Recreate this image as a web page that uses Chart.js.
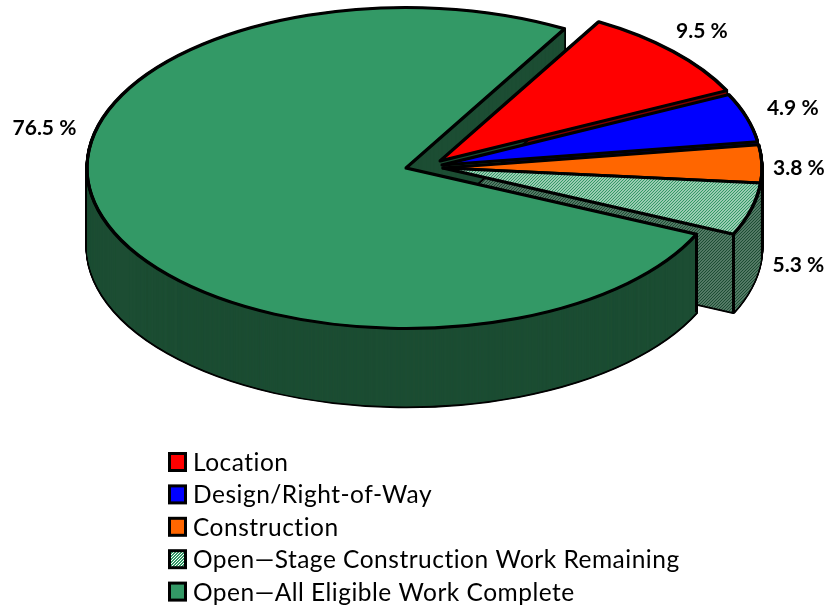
<!DOCTYPE html>
<html>
<head>
<meta charset="utf-8">
<style>
  html, body { margin: 0; padding: 0; background: #fff; }
  canvas { display: block; }
</style>
<script src="https://cdn.jsdelivr.net/npm/chart.js@4"></script>
</head>
<body>
<canvas id="pieChart" width="827" height="607"></canvas>
<script>
const categories = ['Location', 'Design/Right-of-Way', 'Construction', 'Open\u2014Stage Construction Work Remaining', 'Open\u2014All Eligible Work Complete'];
const shares = [9.5, 4.9, 3.8, 5.3, 76.5];
const shareLabels = ['9.5 %', '4.9 %', '3.8 %', '5.3 %', '76.5 %'];

// ─── 3D look ───
const SQUASH = 0.503;
const DEPTH = 78;
const OUTLINE = 3;
const sliceShift = [[34, -7], [36, -3], [37, 0], [37, 0], [0, 0]];
const labelShift = [[29, -20], [46, -9], [37, 4], [47, 56], [-58, -89]];

function makeHatch(fg, bg, squash) {
    const tile = document.createElement('canvas');
    tile.width = tile.height = 3;
    const t = tile.getContext('2d');
    t.fillStyle = fg;
    t.fillRect(0, 0, 3, 3);
    t.fillStyle = bg;
    t.fillRect(0, 2, 1, 1);
    t.fillRect(1, 1, 1, 1);
    t.fillRect(2, 0, 1, 1);
    const pattern = t.createPattern(tile, 'repeat');
    pattern.setTransform(new DOMMatrix().scale(1, 1 / squash));
    return pattern;
}

const stageTop = makeHatch('#339966', '#ffffff', SQUASH);
const stageSide = makeHatch('#1c4d33', '#8aa598', SQUASH);
const topColors = ['#ff0000', '#0000ff', '#ff6600', stageTop, '#339966'];
const sideColors = ['#800000', '#000080', '#803300', stageSide, '#1c4d33'];
const legendColors = ['#ff0000', '#0000ff', '#ff6600', makeHatch('#339966', '#ffffff', 1), '#339966'];

function paintArc(ctx, el, i, k, fill, width) {
    const cy = el.y;
    ctx.save();
    ctx.translate(sliceShift[i][0], sliceShift[i][1] + k);
    ctx.translate(0, cy);
    ctx.scale(1, SQUASH);
    ctx.translate(0, -cy);
    const face = Object.create(el);
    face.options = {
        backgroundColor: fill, borderColor: '#000', borderWidth: width,
        borderAlign: 'center', borderJoinStyle: 'round', borderDash: [], borderDashOffset: 0,
        borderRadius: 0, offset: 0, spacing: 0, circular: true
    };
    face.draw(ctx);
    ctx.restore();
}

function drawWall(ctx, el, i) {
    for (let k = DEPTH + 1; k >= 0; k -= 0.5) {
        paintArc(ctx, el, i, k, 'rgba(0,0,0,0)', OUTLINE);
    }
    for (let k = DEPTH; k >= 1; k -= 0.5) {
        if (sideColors[i] === stageSide) {
            stageSide.setTransform(new DOMMatrix().translate(0, -k / SQUASH).scale(1, 1 / SQUASH));
        }
        paintArc(ctx, el, i, k, sideColors[i], 0);
    }
}

function drawTop(ctx, el, i) {
    paintArc(ctx, el, i, 0, topColors[i], 0);
    [-0.75, 0, 0.75].forEach(d => paintArc(ctx, el, i, d, 'rgba(0,0,0,0)', OUTLINE));
}

function rimPoint(el, i, angle) {
    return {
        x: el.x + sliceShift[i][0] + el.outerRadius * Math.cos(angle),
        y: el.y + sliceShift[i][1] + el.outerRadius * SQUASH * Math.sin(angle)
    };
}

function drawCorner(ctx, el, i, angle) {
    const p = rimPoint(el, i, angle);
    ctx.save();
    ctx.strokeStyle = '#000';
    ctx.lineWidth = OUTLINE;
    ctx.beginPath();
    ctx.moveTo(p.x, p.y);
    ctx.lineTo(p.x, p.y + DEPTH);
    ctx.stroke();
    ctx.restore();
}

const pie3d = {
    id: 'pie3d',
    beforeDatasetDraw(chart) {
        const { ctx } = chart;
        const arcs = chart.getDatasetMeta(0).data;
        const big = arcs.length - 1;

        // 작은 조각 옆면 → 큰 조각 → 작은 조각 윗면 순서로 그림
        for (let i = 0; i < big; i++) drawWall(ctx, arcs[i], i);
        drawCorner(ctx, arcs[3], 3, arcs[3].endAngle);
        drawWall(ctx, arcs[big], big);
        drawCorner(ctx, arcs[big], big, arcs[big].startAngle);
        drawTop(ctx, arcs[big], big);
        for (let i = 0; i < big; i++) drawTop(ctx, arcs[i], i);
        return false;
    },
    afterDraw(chart) {
        const { ctx } = chart;
        const arcs = chart.getDatasetMeta(0).data;
        ctx.save();
        ctx.fillStyle = '#000';
        ctx.textBaseline = 'middle';

        // 퍼센트 레이블
        ctx.font = 'bold 21px Lato';
        ctx.textAlign = 'center';
        arcs.forEach((el, i) => {
            const p = rimPoint(el, i, (el.startAngle + el.endAngle) / 2);
            ctx.fillText(shareLabels[i], p.x + labelShift[i][0], p.y + labelShift[i][1]);
        });

        // 범례
        ctx.font = '24.5px Lato';
        ctx.letterSpacing = '0.5px';
        ctx.textAlign = 'left';
        categories.forEach((name, i) => {
            const y = 463 + i * 32.4;
            ctx.fillStyle = legendColors[i];
            ctx.fillRect(169.5, y - 9.5, 16, 17);
            ctx.strokeStyle = '#000';
            ctx.lineWidth = 3;
            ctx.strokeRect(169.5, y - 9.5, 16, 17);
            ctx.fillStyle = '#000';
            ctx.fillText(name, 193, y);
        });
        ctx.restore();
    }
};

new Chart(document.getElementById('pieChart').getContext('2d'), {
    type: 'pie',
    data: {
        labels: categories,
        datasets: [{ data: shares, backgroundColor: topColors }]
    },
    options: {
        responsive: false,
        animation: false,
        rotation: 29.8,
        radius: 319,
        layout: { padding: { left: 0, right: 15, top: 0, bottom: 271 } },
        plugins: {
            legend: { display: false },
            tooltip: { enabled: false }
        }
    },
    plugins: [pie3d]
});
</script>
</body>
</html>
